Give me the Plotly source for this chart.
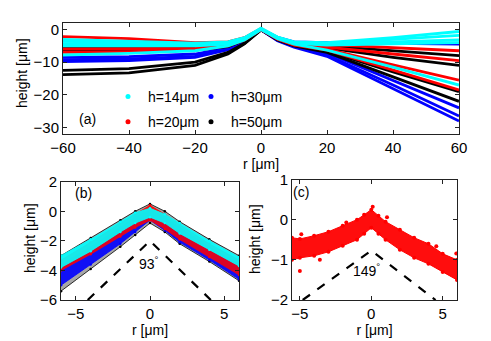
import plotly.graph_objects as go

# ---------------- data ----------------
# Panel (a): height profiles sampled at these r positions (one list per measured profile)
R_A = [-60, -40, -20, -10, -5, 0, 5, 10, 20, 40, 60]
H14_A = [
    [-3.0, -3.5, -4.2, -3.8, -2.5, 0.4, -2.3, -3.8, -4.0, -2.5, -0.6],
    [-3.6, -3.9, -4.4, -4.0, -2.6, 0.3, -2.4, -3.9, -4.2, -3.0, -1.8],
    [-4.3, -4.4, -4.6, -4.2, -2.8, 0.2, -2.5, -4.0, -4.4, -3.8, -3.2],
    [-5.0, -5.0, -5.0, -4.5, -3.0, 0.1, -2.6, -4.2, -4.8, -4.4, -4.0],
    [-7.8, -7.3, -6.5, -5.0, -3.2, 0.0, -2.8, -4.5, -6.3, -11.5, -17.0],
]
H20_A = [
    [-2.2, -2.8, -4.0, -3.8, -2.5, 0.3, -2.5, -4.0, -4.6, -5.6, -6.5],
    [-5.0, -5.0, -5.0, -4.3, -2.8, 0.2, -2.7, -4.3, -5.4, -7.5, -9.5],
    [-6.0, -6.0, -5.8, -4.8, -3.1, 0.0, -2.9, -4.6, -6.0, -10.8, -15.5],
    [-7.0, -6.8, -6.3, -5.0, -3.2, 0.0, -3.0, -4.8, -6.3, -12.5, -18.5],
]
H30_A = [
    [-6.5, -6.5, -6.0, -5.0, -3.2, 0.0, -2.4, -3.8, -4.0, -4.2, -4.5],
    [-8.5, -8.3, -7.5, -5.6, -3.5, 0.0, -3.2, -5.0, -7.2, -15.5, -24.0],
    [-9.2, -9.0, -8.2, -6.0, -3.7, -0.1, -3.3, -5.2, -7.8, -17.0, -26.5],
    [-9.8, -9.5, -8.5, -6.2, -3.8, -0.1, -3.4, -5.4, -8.2, -18.0, -28.0],
]
H50_A = [
    [-5.5, -5.8, -5.5, -4.6, -3.0, 0.0, -2.7, -4.2, -5.0, -6.5, -8.0],
    [-6.5, -6.7, -6.3, -5.2, -3.3, 0.0, -2.8, -4.4, -5.6, -8.5, -11.0],
    [-12.5, -12.0, -10.0, -7.0, -4.2, -0.1, -3.0, -4.8, -6.6, -13.0, -19.0],
    [-13.8, -13.3, -11.0, -7.5, -4.4, -0.1, -3.2, -5.0, -7.0, -14.5, -22.0],
]

# Panel (b): band envelopes (upper, lower) of each h at these r positions
R_B = [-6, -4, -2, -1, 0, 1, 2, 4, 6]
H50_B_UP = [-3.0, -1.8, -0.6, 0.0, 0.5, 0.0, -0.7, -1.9, -3.0]
H50_B_LO = [-5.4, -3.9, -2.4, -1.6, -0.8, -1.4, -2.2, -3.4, -4.7]
H30_B_UP = [-3.6, -2.4, -1.1, -0.4, 0.1, -0.4, -1.1, -2.4, -3.6]
H30_B_LO = [-5.0, -3.6, -2.2, -1.4, -0.6, -1.3, -2.1, -3.3, -4.6]
H20_B_UP = [-3.3, -2.1, -0.8, -0.2, 0.4, -0.2, -0.9, -2.2, -3.3]
H20_B_LO = [-4.0, -2.9, -1.7, -1.1, -0.6, -1.2, -1.9, -3.1, -4.3]
H14_B_UP = [-3.0, -1.9, -0.7, -0.1, 0.2, -0.2, -0.8, -2.0, -3.1]
H14_B_LO = [-3.8, -2.7, -1.4, -0.8, -0.4, -0.8, -1.5, -2.6, -3.7]
CONE_B_R = [-4.2, 0, 4.1]
CONE_B_H = [-6, -2, -6]

# Panel (c): h=20 band envelope and isolated points
R_C = [-5.55, -5, -4, -3, -2, -1, -0.5, 0, 0.5, 1, 2, 3, 4, 5, 6]
H20_C_UP = [-0.45, -0.48, -0.4, -0.3, -0.15, 0.0, 0.12, 0.25, 0.1, -0.05, -0.25, -0.45, -0.6, -0.85, -1.0]
H20_C_LO = [-1.0, -0.95, -0.9, -0.8, -0.65, -0.5, -0.35, -0.2, -0.35, -0.5, -0.75, -0.95, -1.1, -1.3, -1.5]
OUT_C_R = [-5.0, -4.9, -3.6, -1.75, 1.1, 4.55, 5.95, 0.1]
OUT_C_H = [-1.28, -0.36, -1.0, -0.07, 0.06, -0.66, -0.84, 0.32]
CONE_C_R = [-4.8, 0, 4.5]
CONE_C_H = [-2, -0.77, -2]

LEGEND_LABELS = ["h=14μm", "h=20μm", "h=30μm", "h=50μm"]
COLORS = {"h14": "#00FFFF", "h20": "#FF0000", "h30": "#0000FF", "h50": "#000000"}
Y_TITLE = "height [μm]"
X_TITLE = "r [μm]"

# ---------------- figure ----------------
# the page body has an 8px margin, so the figure is drawn 8px smaller and
# reference pixel positions are shifted by that offset
OFF = 8
W, H = 491 - OFF, 341 - OFF
FONT = "Liberation Sans, Arial, sans-serif"
fig = go.Figure()

# panel (a) profiles
for profiles, key in [(H30_A, "h30"), (H50_A, "h50"), (H20_A, "h20"), (H14_A, "h14")]:
    for prof in profiles:
        fig.add_trace(go.Scatter(x=R_A, y=prof, mode="lines",
                                 line=dict(color=COLORS[key], width=2.8),
                                 showlegend=False, hoverinfo="skip",
                                 xaxis="x", yaxis="y"))

# legend entries
for lab, key, leg in [(LEGEND_LABELS[0], "h14", "legend"), (LEGEND_LABELS[1], "h20", "legend"),
                      (LEGEND_LABELS[2], "h30", "legend2"), (LEGEND_LABELS[3], "h50", "legend2")]:
    fig.add_trace(go.Scatter(x=[None], y=[None], mode="markers", name=lab,
                             marker=dict(color=COLORS[key], size=5),
                             legend=leg, legendgroup=key, xaxis="x", yaxis="y"))

# panel (b) bands
fills_b = [("h50", H50_B_UP, H50_B_LO, "rgba(0,0,0,0.35)"),
           ("h30", H30_B_UP, H30_B_LO, "rgba(0,0,255,0.9)"),
           ("h20", H20_B_UP, H20_B_LO, "rgba(255,0,0,0.85)"),
           ("h14", H14_B_UP, H14_B_LO, "rgba(0,255,255,0.9)")]
for key, up, lo, fc in fills_b:
    fig.add_trace(go.Scatter(x=R_B + R_B[::-1], y=up + lo[::-1], mode="lines+markers",
                             fill="toself", fillcolor=fc,
                             line=dict(color=COLORS[key], width=0.8),
                             marker=dict(color=COLORS[key], size=2.5),
                             showlegend=False, hoverinfo="skip",
                             xaxis="x2", yaxis="y2"))
fig.add_trace(go.Scatter(x=CONE_B_R, y=CONE_B_H, mode="lines",
                         line=dict(color="black", width=2.2, dash="dash"),
                         showlegend=False, xaxis="x2", yaxis="y2"))

# panel (c)
fig.add_trace(go.Scatter(x=R_C + R_C[::-1], y=H20_C_UP + H20_C_LO[::-1], mode="lines+markers",
                         fill="toself", fillcolor="rgba(255,0,0,0.95)",
                         line=dict(color="#FF0000", width=1),
                         marker=dict(color="#FF0000", size=4),
                         showlegend=False, hoverinfo="skip", xaxis="x3", yaxis="y3"))
fig.add_trace(go.Scatter(x=OUT_C_R, y=OUT_C_H, mode="markers",
                         marker=dict(color="#FF0000", size=4),
                         showlegend=False, xaxis="x3", yaxis="y3"))
fig.add_trace(go.Scatter(x=CONE_C_R, y=CONE_C_H, mode="lines",
                         line=dict(color="black", width=2.2, dash="dash"),
                         showlegend=False, xaxis="x3", yaxis="y3"))


def xd(a, b):
    return [(a - OFF) / W, (b - OFF) / W]


def yd(top, bottom):
    return [1 - (bottom - OFF) / H, 1 - (top - OFF) / H]


def px(x):
    return (x - OFF) / W


def py(y):
    return 1 - (y - OFF) / H


axis_common = dict(showline=True, linecolor="#222", linewidth=1, mirror="ticks",
                   ticks="inside", ticklen=4, tickcolor="#222", showgrid=False,
                   zeroline=False, tickfont=dict(size=15, color="black", family=FONT),
                   title_font=dict(size=14, color="black", family=FONT), automargin=False)


def ytitle(x, y):
    return dict(text=Y_TITLE, x=px(x), y=py(y), xref="paper", yref="paper",
                textangle=-90, showarrow=False, font=dict(size=14),
                xanchor="center", yanchor="middle")


fig.update_layout(
    width=W, height=H, margin=dict(l=0, r=0, t=0, b=0),
    paper_bgcolor="white", plot_bgcolor="white",
    font=dict(family=FONT, size=14, color="black"),
    xaxis=dict(domain=xd(63, 459), range=[-60, 60], tickvals=[-60, -40, -20, 0, 20, 40, 60],
               title=dict(text=X_TITLE, standoff=1), anchor="y", **axis_common),
    yaxis=dict(domain=yd(23, 134), range=[-32, 2], tickvals=[-30, -20, -10, 0],
               anchor="x", **axis_common),
    xaxis2=dict(domain=xd(61, 239), range=[-6, 6], tickvals=[-5, 0, 5],
                title=dict(text=X_TITLE, standoff=1), anchor="y2", **axis_common),
    yaxis2=dict(domain=yd(181.7, 300), range=[-6, 2], tickvals=[-6, -4, -2, 0, 2],
                anchor="x2", **axis_common),
    xaxis3=dict(domain=xd(292, 457), range=[-5.55, 6], tickvals=[-5, 0, 5],
                title=dict(text=X_TITLE, standoff=1), anchor="y3", **axis_common),
    yaxis3=dict(domain=yd(179.5, 300), range=[-2, 1], tickvals=[-2, -1, 0, 1],
                anchor="x3", **axis_common),
    legend=dict(x=px(108), y=py(81), xanchor="left", yanchor="top",
                bgcolor="rgba(0,0,0,0)", font=dict(size=14), itemwidth=30,
                tracegroupgap=4),
    legend2=dict(x=px(191), y=py(81), xanchor="left", yanchor="top",
                 bgcolor="rgba(0,0,0,0)", font=dict(size=14), itemwidth=30,
                 tracegroupgap=4),
    annotations=[
        ytitle(22, 73),
        ytitle(30, 238),
        ytitle(255, 239),
        dict(text="(a)", x=px(76.7), y=py(119.3), xref="paper", yref="paper",
             showarrow=False, font=dict(size=14)),
        dict(text="(b)", x=px(73.3), y=py(193.3), xref="paper", yref="paper",
             showarrow=False, font=dict(size=14)),
        dict(text="(c)", x=px(301), y=py(192.3), xref="paper", yref="paper",
             showarrow=False, font=dict(size=14)),
        dict(text="93<sup>°</sup>", x=-0.1, y=-3.5, xref="x2", yref="y2",
             showarrow=False, font=dict(size=14)),
        dict(text="149<sup>°</sup>", x=-0.35, y=-1.25, xref="x3", yref="y3",
             showarrow=False, font=dict(size=14)),
    ],
)

fig.write_html("out.html")
